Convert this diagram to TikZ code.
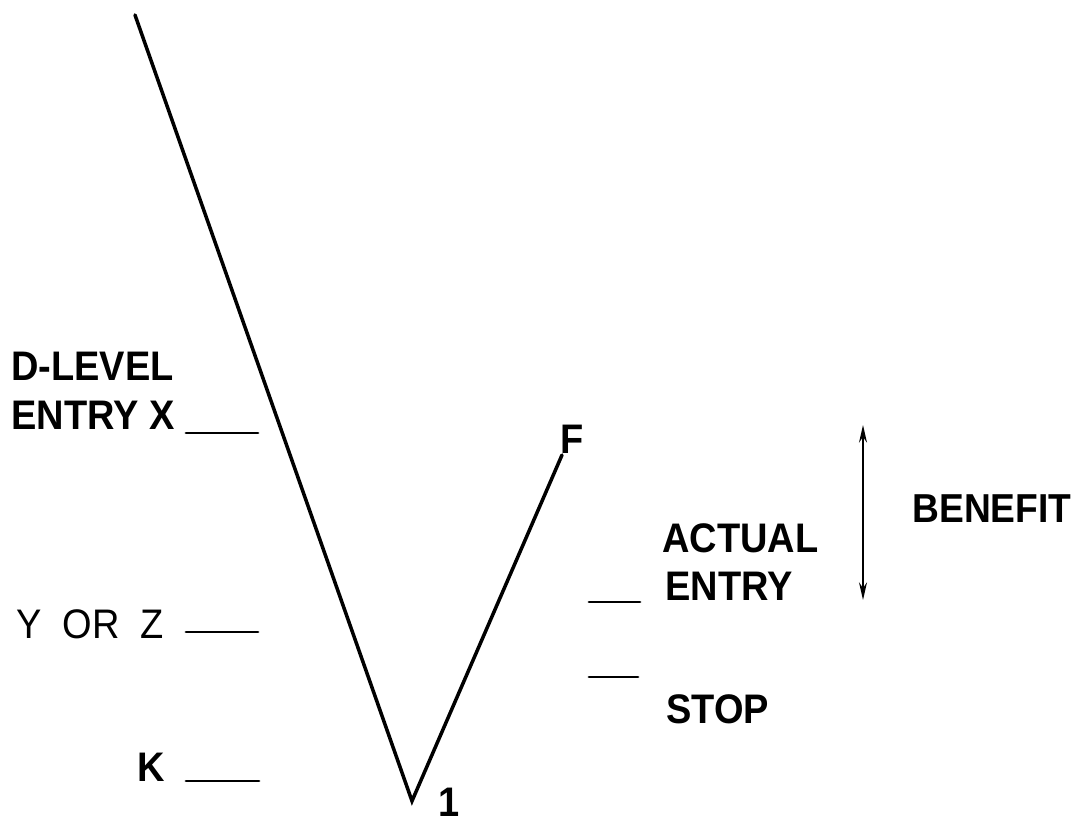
\documentclass[tikz,border=0pt]{standalone}
\usepackage{fontspec}
\setmainfont{Liberation Sans}[FakeStretch=0.92]
\usetikzlibrary{arrows.meta}
\begin{document}
\begin{tikzpicture}[x=0.02cm,y=-0.02cm,
  lbl/.style={inner sep=0pt,anchor=base west,font=\fontsize{23.5}{28}\selectfont\bfseries},
  lblreg/.style={inner sep=0pt,anchor=base west,font=\fontsize{23.5}{28}\selectfont},
  curve/.style={line width=2pt,line cap=round,line join=miter},
  tick/.style={line width=1.6pt,line cap=round},
  benefitarrow/.style={line width=1.2pt,{Stealth[length=10pt,width=4.5pt]}-{Stealth[length=10pt,width=4.5pt]}}]
\useasboundingbox (0,0) rectangle (1075,824);
% main curve
\coordinate (top) at (135,15);
\coordinate (vertex) at (412,801);
\coordinate (fend) at (562,455);
\draw[curve] (top) -- (vertex) -- (fend);
\node[lbl] (F) at (560,453) {F};
\node[lbl] (one) at (438,816) {1};
% left labels
\node[lbl] (dlevel) at (11,380) {D-LEVEL};
\node[lbl] (entryx) at (11,429) {ENTRY X};
\coordinate (tx1) at (186,433); \coordinate (tx2) at (258,433);
\draw[tick] (tx1) -- (tx2);
\node[lblreg] (yorz) at (16,638) {Y\hspace{0.42cm}OR\hspace{0.42cm}Z};
\coordinate (ty1) at (186,632); \coordinate (ty2) at (258,632);
\draw[tick] (ty1) -- (ty2);
\node[lbl] (k) at (137,781) {K};
\coordinate (tk1) at (186,781); \coordinate (tk2) at (259,781);
\draw[tick] (tk1) -- (tk2);
% right labels
\node[lbl] (actual) at (662,552) {ACTUAL};
\node[lbl] (entry) at (665,600) {ENTRY};
\coordinate (te1) at (589,602); \coordinate (te2) at (640,602);
\draw[tick] (te1) -- (te2);
\coordinate (ts1) at (589,677); \coordinate (ts2) at (638,677);
\draw[tick] (ts1) -- (ts2);
\node[lbl] (stop) at (666,723) {STOP};
\coordinate (atop) at (863,425); \coordinate (abot) at (863,600);
\draw[benefitarrow] (atop) -- (abot);
\node[lbl,font=\fontsize{23}{28}\selectfont\bfseries] (benefit) at (912,522) {BENEFIT};
\end{tikzpicture}
\end{document}
